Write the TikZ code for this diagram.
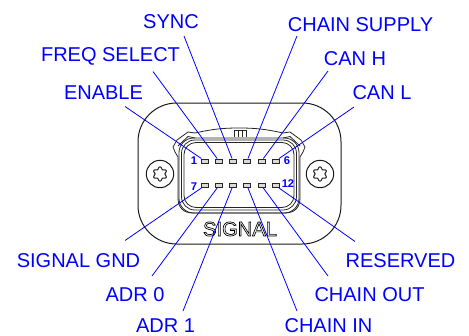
\documentclass[tikz,border=0pt]{standalone}
\usepackage{fontspec}
\setmainfont{Liberation Sans}
\newcommand{\lbsize}{\fontsize{15}{17}\selectfont}
\newcommand{\numsize}{\fontsize{8.4}{9}\selectfont\bfseries}
\newcommand{\outlined}[1]{\special{pdf:literal direct 1 Tr 0.5 w}#1\special{pdf:literal direct 0 Tr}}
\newcommand{\torx}[2]{
   \draw[body] (#1,#2) circle(13.7);
   \draw[body] plot[domain=0:360,samples=73,smooth]
     ({#1+(6-1.1*cos(6*\x))*cos(\x)},{#2+(6-1.1*cos(6*\x))*sin(\x)});
}
\tikzset{
  body/.style={black!90,line width=0.75pt},
  shell/.style={black!85,line width=0.6pt},
  lead/.style={blue,line width=0.6pt},
  lbl/.style={text=blue,inner sep=0pt,font=\lbsize},
  num/.style={text=blue,inner sep=0pt,font=\numsize},
  contact/.style={draw=black!85,line width=0.5pt,fill=black!15,inner sep=0pt,
    minimum width=5pt,minimum height=3.2pt}
}
\begin{document}
\begin{tikzpicture}[x=0.75pt,y=-0.75pt]
   \useasboundingbox (0,0) rectangle (469,336);
 %
   \draw[body,rounded corners=29pt] (138,103) rectangle (341,244);
   \torx{160}{174}
   \torx{320}{174}
 %
   \draw[shell,fill=white] (178,157) -- (175,152) -- (173,147) -- (177,140) -- (188,132) -- (195,133)
     .. controls (213,129) and (223,128) .. (239,128)
     .. controls (255,128) and (265,129) .. (283,133)
     -- (290,132) -- (301,140) -- (305,147) -- (303,152) -- (300,157) -- (300,198)
     .. controls (300,207) and (295,213) .. (285,213) -- (193,213)
     .. controls (183,213) and (178,207) .. (178,198) -- cycle;
   \draw[shell] (178,146) -- (188,136.5) -- (195,138);
   \draw[shell] (300,146) -- (290,136.5) -- (283,138);
   \draw[shell,rounded corners=11pt] (179,138) rectangle (299,213);
   \draw[shell,rounded corners=10pt] (181.5,140) rectangle (296.5,210);
   \draw[shell,rounded corners=9pt] (184,142.5) rectangle (294,207.5);
   \draw[shell] (234,137) -- (234,130.5) -- (246,130.5) -- (246,137);
   \draw[shell] (238,130.5) -- (238,137);
   \draw[shell] (242,130.5) -- (242,137);
 %
   \node[contact] (p1)  at (205,161) {};
   \node[contact] (p2)  at (219,161) {};
   \node[contact] (p3)  at (233,161) {};
   \node[contact] (p4)  at (247,161) {};
   \node[contact] (p5)  at (261.5,161) {};
   \node[contact] (p6)  at (275.5,161) {};
   \node[contact] (p7)  at (205,185.5) {};
   \node[contact] (p8)  at (219,185.5) {};
   \node[contact] (p9)  at (233,185.5) {};
   \node[contact] (p10) at (247,185.5) {};
   \node[contact] (p11) at (261.5,185.5) {};
   \node[contact] (p12) at (275.5,185.5) {};
 %
   \node[num] (n1)  at (194,161) {1};
   \node[num] (n6)  at (287,161) {6};
   \node[num] (n7)  at (194,186.5) {7};
   \node[num] (n12) at (288,184) {12};
 %
   \node[lbl] (sync)   at (171,22)    {SYNC};
   \node[lbl] (chsup)  at (360.5,25)  {CHAIN SUPPLY};
   \node[lbl] (freq)   at (110.5,56)  {FREQ SELECT};
   \node[lbl] (canh)   at (355,59)    {CAN H};
   \node[lbl] (enable) at (103.5,93)  {ENABLE};
   \node[lbl] (canl)   at (382,93)    {CAN L};
   \node[lbl] (sgnd)   at (78.5,261)  {SIGNAL GND};
   \node[lbl] (resvd)  at (400.5,261) {RESERVED};
   \node[lbl] (adr0)   at (135,295)   {ADR 0};
   \node[lbl] (chout)  at (369.5,295) {CHAIN OUT};
   \node[lbl] (adr1)   at (165.5,326) {ADR 1};
   \node[lbl] (chin)   at (328.5,326) {CHAIN IN};
   \node[inner sep=0pt,font=\fontsize{15.1}{17}\selectfont,text=black] (signal) at (240,229) {\outlined{SIGNAL}};
 %
   \coordinate (e1)  at (125,106.5);
   \coordinate (e2)  at (153,71.5);
   \coordinate (e3)  at (184,36);
   \coordinate (e4)  at (297,36);
   \coordinate (e5)  at (328,71);
   \coordinate (e6)  at (354,107);
   \coordinate (e7)  at (125,240.5);
   \coordinate (e8)  at (152,276);
   \coordinate (e9)  at (183,311);
   \coordinate (e10) at (297,311);
   \coordinate (e11) at (328,276);
   \coordinate (e12) at (355,241.5);
 %
   \draw[lead] (e1)  -- (p1);
   \draw[lead] (e2)  -- (p2);
   \draw[lead] (e3)  -- (p3);
   \draw[lead] (e4)  -- (p4);
   \draw[lead] (e5)  -- (p5);
   \draw[lead] (e6)  -- (p6);
   \draw[lead] (e7)  -- (p7);
   \draw[lead] (e8)  -- (p8);
   \draw[lead] (e9)  -- (p9);
   \draw[lead] (e10) -- (p10);
   \draw[lead] (e11) -- (p11);
   \draw[lead] (e12) -- (p12);
\end{tikzpicture}
\end{document}
